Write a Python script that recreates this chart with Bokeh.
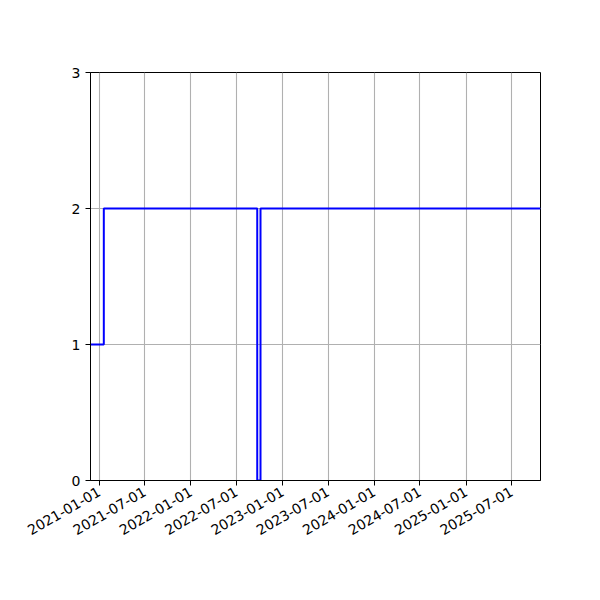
import math
from datetime import datetime
from bokeh.plotting import figure
from bokeh.models import Range1d, FixedTicker, DatetimeTickFormatter
from bokeh.embed import file_html
from bokeh.resources import INLINE

# Data
step_dates = ["2020-11-27", "2021-01-19", "2022-09-22", "2022-10-05", "2025-10-24"]
step_values = [1, 2, 0, 2, 2]
x_start = "2020-11-27"
x_end = "2025-10-24"
y_ticks = [0, 1, 2, 3]
x_tick_labels = ["2021-01-01", "2021-07-01", "2022-01-01", "2022-07-01", "2023-01-01",
                 "2023-07-01", "2024-01-01", "2024-07-01", "2025-01-01", "2025-07-01"]

def d(s):
    return datetime.strptime(s, "%Y-%m-%d")

def ms(s):
    return (d(s) - datetime(1970, 1, 1)).total_seconds() * 1000.0

p = figure(
    x_axis_type="datetime",
    frame_width=450, frame_height=408,
    min_border_left=90, min_border_top=72, min_border_right=40, min_border_bottom=104,
    x_range=Range1d(d(x_start), d(x_end)),
    y_range=Range1d(0, 3),
    output_backend="svg", toolbar_location=None,
)
p.background_fill_color = "white"
p.border_fill_color = "white"
p.outline_line_color = "black"
p.outline_line_width = 1

p.step([d(s) for s in step_dates], step_values, mode="after", line_color="#0000ff", line_width=2)

p.xaxis.ticker = FixedTicker(ticks=[ms(s) for s in x_tick_labels])
fmt = "%Y-%m-%d"
p.xaxis.formatter = DatetimeTickFormatter(
    milliseconds=fmt, seconds=fmt, minsec=fmt, minutes=fmt, hourmin=fmt,
    hours=fmt, days=fmt, months=fmt, years=fmt)
p.xaxis.major_label_orientation = math.pi / 6
p.yaxis.ticker = FixedTicker(ticks=y_ticks)

for ax in (p.xaxis, p.yaxis):
    ax.axis_line_color = "black"
    ax.major_tick_line_color = "black"
    ax.major_tick_out = 5
    ax.major_tick_in = 0
    ax.minor_tick_line_color = None
    ax.major_label_text_font = "DejaVu Sans"
    ax.major_label_text_font_size = "14px"
    ax.major_label_text_color = "black"
    ax.major_label_standoff = 5

p.grid.grid_line_color = "#b0b0b0"
p.grid.grid_line_width = 1.1

open("out.html", "w").write(file_html(p, INLINE))
